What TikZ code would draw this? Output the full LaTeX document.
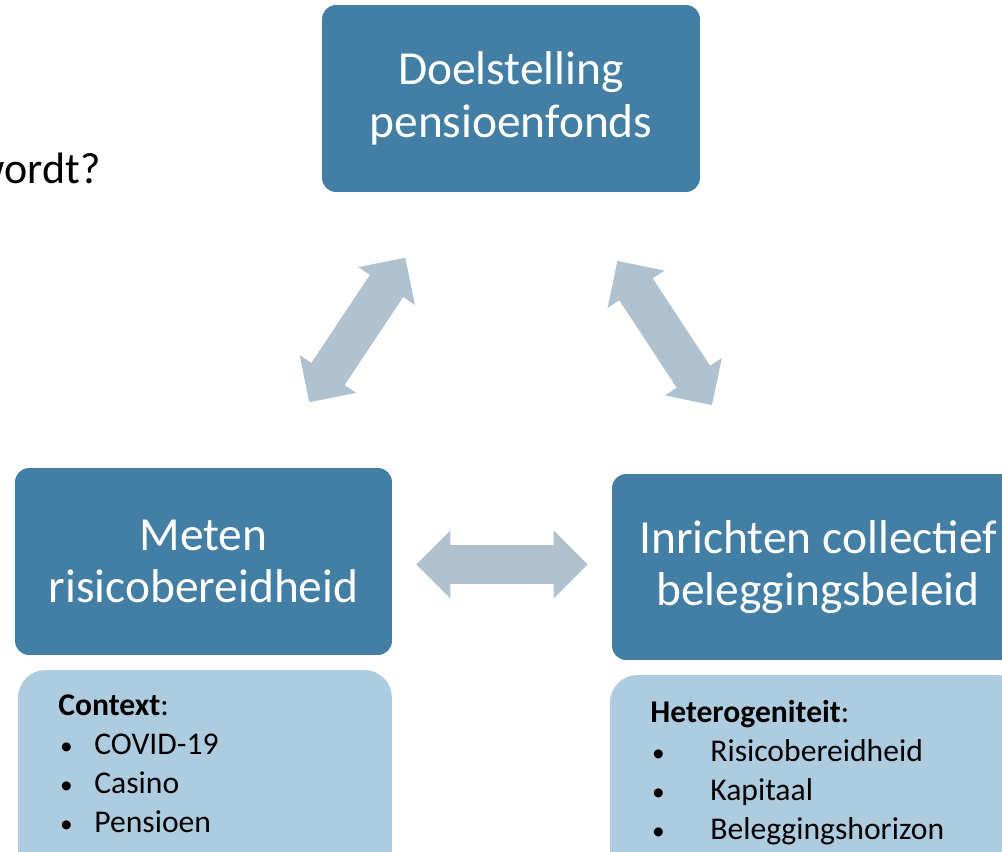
\documentclass[tikz,border=0pt]{standalone}
\usepackage{fontspec}
\setmainfont{Carlito}
\usetikzlibrary{arrows.meta, positioning}

\definecolor{boxblue}{RGB}{67,127,164}
\definecolor{boxlight}{RGB}{174,204,223}
\definecolor{arrowgrey}{RGB}{176,194,207}

\newcommand{\itm}[2]{\makebox[#1][l]{\hspace{1pt}\scalebox{0.8}{\textbullet}}#2}

\begin{document}
\begin{tikzpicture}[x=0.02cm, y=-0.02cm,
    main box/.style={rectangle, rounded corners=0.28cm, fill=boxblue, text=white, minimum width=7.56cm, minimum height=3.74cm, align=center, inner sep=0pt, font=\fontsize{27}{30}\selectfont},
    note box/.style={rectangle, rounded corners=0.55cm, fill=boxlight, minimum height=4.2cm},
    note text/.style={align=left, anchor=north west, inner sep=0pt, font=\fontsize{18}{22.2}\selectfont},
    link/.style={draw=arrowgrey, line width=0.8cm, {Triangle[length=0.68cm,width=1.32cm]}-{Triangle[length=0.68cm,width=1.32cm]}}
]
        \useasboundingbox (0,0) rectangle (1002,852);
        \clip (0,0) rectangle (1002,852);

        \node[anchor=base west, inner sep=0pt, font=\fontsize{25}{30}\selectfont] (vraag) at (-27,183) {wordt?};

        \node[main box] (doel) at (511,98.5) {Doelstelling\\pensioenfonds};
        \node[main box, minimum width=7.54cm] (meten) at (203.5,561.5) {Meten\\risicobereidheid};
        \node[main box, minimum width=8.24cm, minimum height=3.72cm] (inrichten) at (818,567) {Inrichten collectief\\beleggingsbeleid};

        \node[note box, minimum width=7.48cm] (contextbox) at (205,775) {};
        \node[note box, minimum width=8.28cm] (heterobox) at (817,780) {};

        \node[note text] (context) at (58,694) {\textbf{Context}:\\
            \itm{0.72cm}{COVID-19}\\
            \itm{0.72cm}{Casino}\\
            \itm{0.72cm}{Pensioen}};
        \node[note text] (hetero) at (650,700) {\textbf{Heterogeniteit}:\\
            \itm{1.2cm}{Risicobereidheid}\\
            \itm{1.2cm}{Kapitaal}\\
            \itm{1.2cm}{Beleggingshorizon}};

        \draw[link, shorten <=1.57cm, shorten >=1.57cm] (meten) -- (doel);
        \draw[link, shorten <=1.64cm, shorten >=1.64cm] (doel) -- (inrichten);
        \draw[link, shorten <=0.48cm, shorten >=0.48cm] ([yshift=-0.06cm]meten.east) -- ([yshift=-0.06cm]meten.east -| inrichten.west);
    \end{tikzpicture}
\end{document}
